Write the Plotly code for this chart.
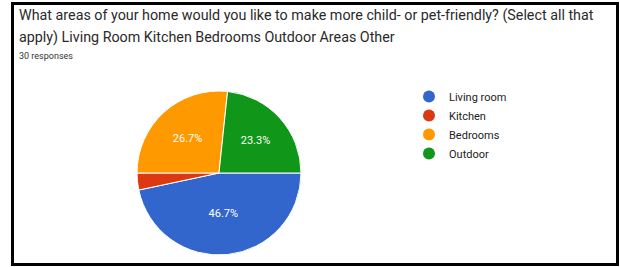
import plotly.graph_objects as go

# Data
labels = ["Living room", "Kitchen", "Bedrooms", "Outdoor"]
counts = [14, 1, 8, 7]
colors = ["#3366cc", "#dc3912", "#ff9900", "#109618"]
title_lines = [
    "What areas of your home would you like to make more child- or pet-friendly? (Select all that",
    "apply) Living Room Kitchen Bedrooms Outdoor Areas Other",
]
subtitle = "30 responses"

W, H = 620, 267
total = sum(counts)
pct_text = [f"{c / total * 100:.1f}%" if c / total >= 0.05 else "" for c in counts]

fig = go.Figure()
fig.add_trace(go.Pie(
    labels=labels,
    values=counts,
    text=pct_text,
    textinfo="text",
    textposition="inside",
    insidetextorientation="horizontal",
    textfont=dict(family="Roboto, Arial, sans-serif", size=11, color="#ffffff"),
    marker=dict(colors=colors, line=dict(color="#ffffff", width=1)),
    sort=False,
    direction="clockwise",
    rotation=90,
    showlegend=False,
    hoverinfo="label+percent",
    domain=dict(x=[(219 - 82) / W, (219 + 82) / W], y=[1 - 255 / H, 1 - 91 / H]),
))

# legend entries with round markers
for lab, col in zip(labels, colors):
    fig.add_trace(go.Scatter(
        x=[None], y=[None], mode="markers", name=lab,
        marker=dict(color=col, size=11, symbol="circle"),
        showlegend=True, hoverinfo="skip",
    ))

font_family = "Roboto, Arial, sans-serif"
annotations = [
    dict(text=title_lines[0], x=17 / W, y=1 - 15 / H, xref="paper", yref="paper",
         xanchor="left", yanchor="middle", showarrow=False,
         font=dict(family=font_family, size=14.3, color="#2a2a2a")),
    dict(text=title_lines[1], x=17 / W, y=1 - 37 / H, xref="paper", yref="paper",
         xanchor="left", yanchor="middle", showarrow=False,
         font=dict(family=font_family, size=14.3, color="#2a2a2a")),
    dict(text=subtitle, x=17 / W, y=1 - 56 / H, xref="paper", yref="paper",
         xanchor="left", yanchor="middle", showarrow=False,
         font=dict(family=font_family, size=9, color="#333333")),
]

fig.update_layout(
    width=W, height=H,
    margin=dict(l=0, r=0, t=0, b=0),
    paper_bgcolor="#ffffff",
    plot_bgcolor="#ffffff",
    xaxis=dict(visible=False),
    yaxis=dict(visible=False),
    annotations=annotations,
    legend=dict(
        x=(429 - 20) / W, y=1 - 82 / H, xanchor="left", yanchor="top",
        font=dict(family=font_family, size=11, color="#222222"),
        bgcolor="rgba(0,0,0,0)", tracegroupgap=0, itemsizing="constant",
    ),
    shapes=[dict(type="rect", xref="paper", yref="paper",
                 x0=12.5 / W, x1=617.5 / W, y0=1 - 264.5 / H, y1=1 - 3.5 / H,
                 line=dict(color="#000000", width=3), fillcolor="rgba(0,0,0,0)")],
)

fig.write_html(
    "out.html",
    config={"displayModeBar": False},
    post_script="document.body.style.margin='0';document.body.style.overflow='hidden';",
)
